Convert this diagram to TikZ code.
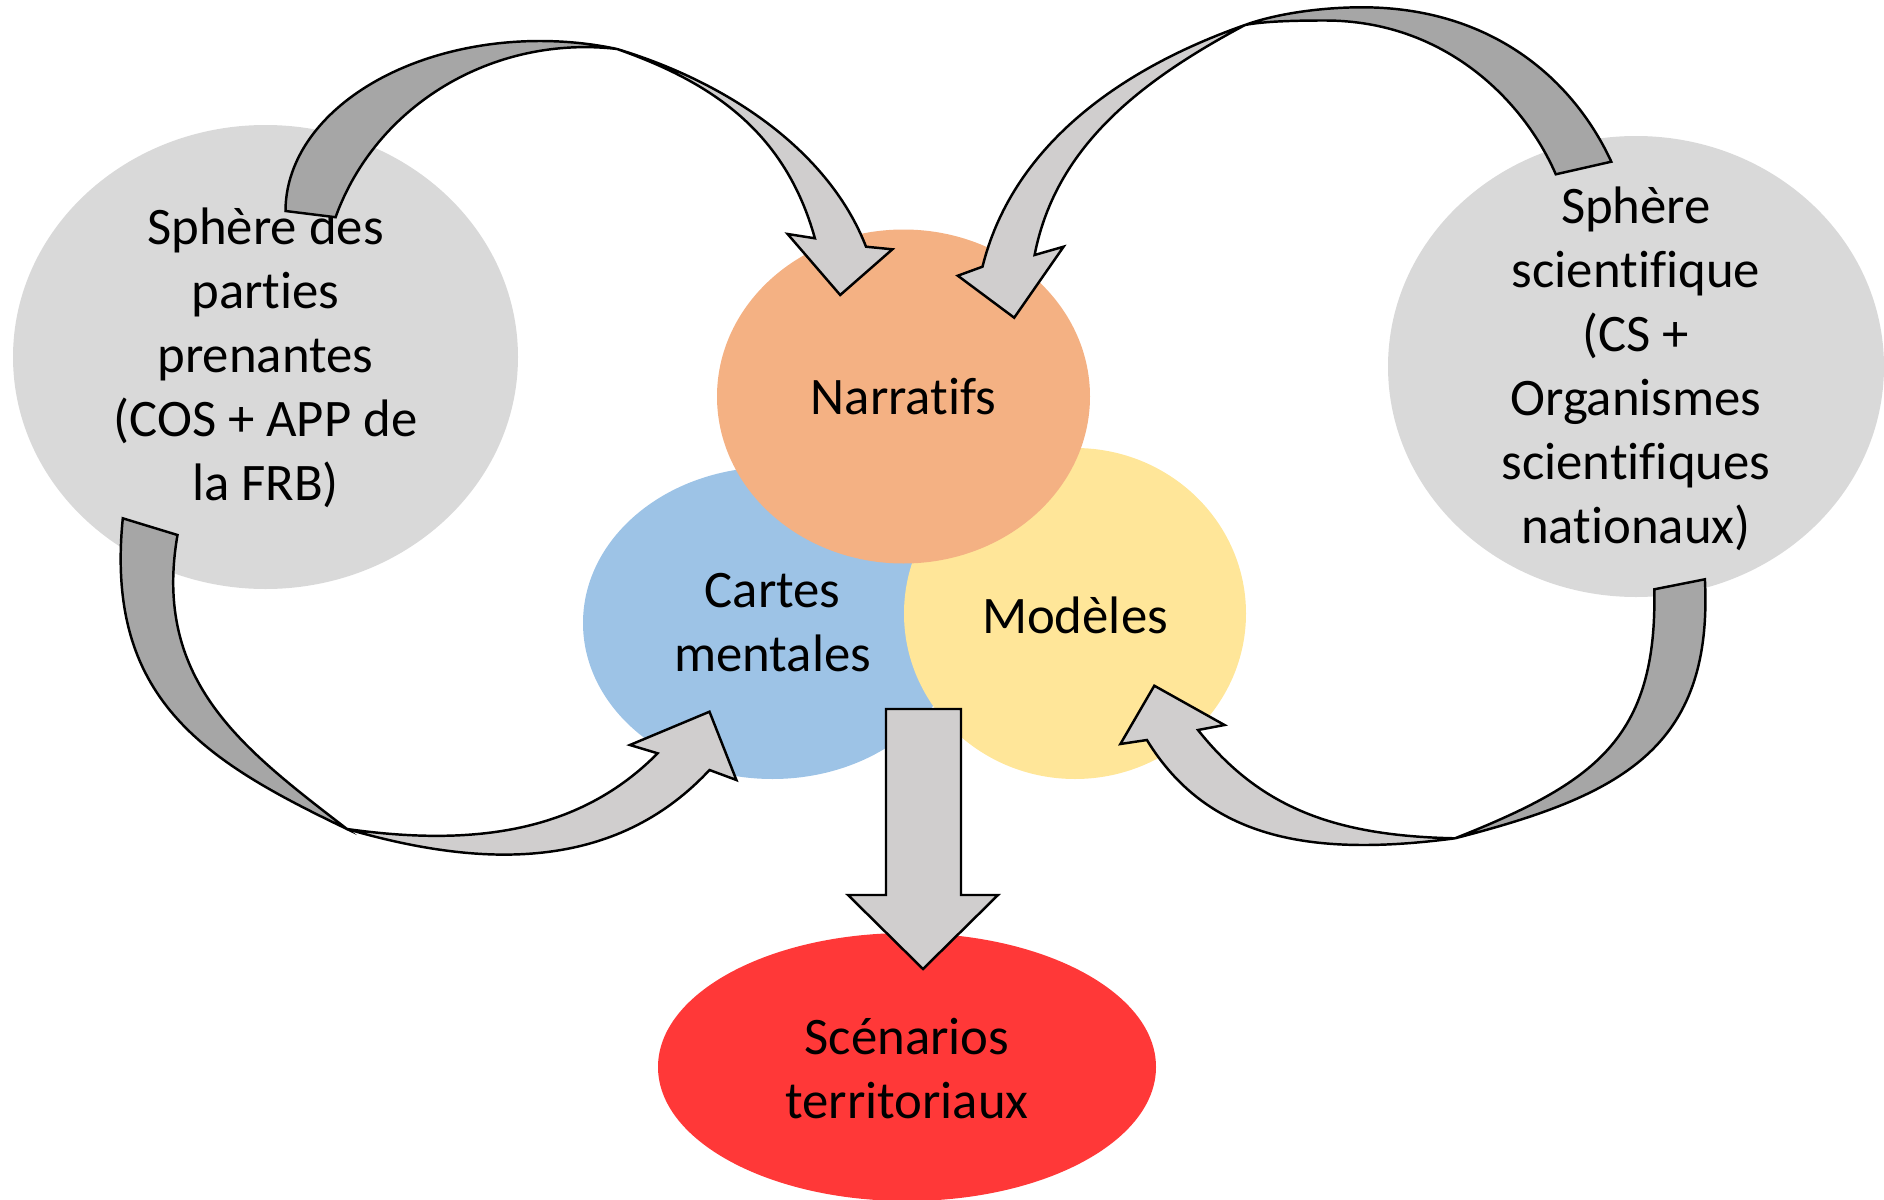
\documentclass[tikz,border=0pt]{standalone}
\usepackage{fontspec}
\setmainfont{Carlito}[Ligatures=NoCommon]
\usepackage{xcolor}
\usetikzlibrary{positioning,calc}

\definecolor{grisbulle}{HTML}{D9D9D9}
\definecolor{saumon}{HTML}{F4B183}
\definecolor{bleuclair}{HTML}{9DC3E6}
\definecolor{jaunepale}{HTML}{FFE699}
\definecolor{rougevif}{HTML}{FF3838}
\definecolor{flecheclair}{HTML}{D0CECE}
\definecolor{flechefonce}{HTML}{A6A6A6}

\tikzset{
    texte/.style={align=center, inner sep=0pt, font=\fontsize{15}{18.2}\selectfont},
    dos/.style={fill=flechefonce, draw=black, line width=0.7pt, line join=miter},
    face/.style={fill=flecheclair, draw=black, line width=0.7pt, line join=miter}
}

\begin{document}
\begin{tikzpicture}[x=0.01cm, y=-0.01cm]
    \useasboundingbox (0,0) rectangle (1884,1200);

    % Spheres
    \fill[grisbulle] (265.5,357) ellipse [x radius=252.5, y radius=232];
    \fill[grisbulle] (1636,366.5) ellipse [x radius=248, y radius=230.5];
    \node[texte] (parties) at (265.5,358) {Sphère des\\parties\\prenantes\\(COS + APP de\\la FRB)};
    \node[texte] (scientifique) at (1636,369) {Sphère\\scientifique\\(CS +\\Organismes\\scientifiques\\nationaux)};

    % Outils
    \fill[bleuclair] (772.5,623) ellipse [x radius=189.5, y radius=156];
    \fill[jaunepale] (1075,613.5) ellipse [x radius=171, y radius=165.5];
    \fill[saumon] (903.5,396.5) ellipse [x radius=186.5, y radius=167];
    \node[texte] (narratifs) at (903.5,397) {Narratifs};
    \node[texte] (cartes) at (772.5,623) {Cartes\\mentales};
    \node[texte] (modeles) at (1075,615) {Modèles};

    % Scenarios
    \fill[rougevif] (907,1067) ellipse [x radius=249, y radius=134];
    \node[texte] (scenarios) at (907,1069) {Scénarios\\territoriaux};

    % Fleche parties -> narratifs
    \coordinate (x1) at (617,49);
    \draw[dos] (285.5,211) arc[start angle=180, end angle=287.6, x radius=254.5, y radius=170]
        arc[start angle=276.9, end angle=198.97, x radius=264, y radius=252] -- cycle;
    \draw[face] (x1) .. controls (732.2,83.8) and (830,153.7) .. (866,246.7)
        -- (892.4,249.3) -- (840.2,295) -- (787.6,234) -- (814.9,238.3)
        .. controls (785,131) and (711,82) .. (x1) -- cycle;

    % Fleche scientifique -> narratifs
    \coordinate (x2) at (1245,25);
    \draw[dos] (1611.3,161.7) .. controls (1573.5,79.8) and (1492,7.3) .. (1362,7.3)
        .. controls (1320,7.3) and (1275,14) .. (x2)
        .. controls (1265,21) and (1300,20.5) .. (1325,20.5)
        .. controls (1445,20.5) and (1523.8,100.7) .. (1555.8,174.3) -- cycle;
    \draw[face] (x2) .. controls (1113.4,71.2) and (1011.3,150.3) .. (982.5,266.7)
        -- (957.8,275.7) -- (1014.2,317.7) -- (1063.6,246.7) -- (1034.6,255)
        .. controls (1055.5,147.2) and (1139.4,81.4) .. (x2) -- cycle;

    % Fleche parties -> cartes
    \coordinate (x3) at (347,829);
    \draw[dos] (122.8,518.3) .. controls (104.8,698.3) and (203,760.2) .. (x3)
        .. controls (244.3,749.7) and (152,682) .. (177.5,535) -- cycle;
    \draw[face] (x3) .. controls (481.4,868.2) and (614.3,872.2) .. (709.5,770)
        -- (736.4,780) -- (709.5,711.7) -- (629.9,745) -- (657.6,753.3)
        .. controls (580.6,831.4) and (475.7,847.2) .. (x3) -- cycle;

    % Fleche scientifique -> modeles
    \coordinate (x4) at (1455,838.3);
    \draw[dos] (1704.9,579.3) .. controls (1713.4,749.3) and (1619.9,795.8) .. (x4)
        .. controls (1594.5,782.8) and (1657.3,739.3) .. (1654.3,589.3) -- cycle;
    \draw[face] (x4) .. controls (1316.4,856.5) and (1209.3,842) .. (1146.9,740)
        -- (1120.4,744) -- (1154.3,685.7) -- (1224.5,725) -- (1198,730)
        .. controls (1260,808) and (1335,835.9) .. (x4) -- cycle;

    % Fleche vers scenarios
    \draw[face] (886,709) -- (961,709) -- (961,895) -- (998,895) -- (923,969)
        -- (848,895) -- (886,895) -- cycle;
\end{tikzpicture}
\end{document}
